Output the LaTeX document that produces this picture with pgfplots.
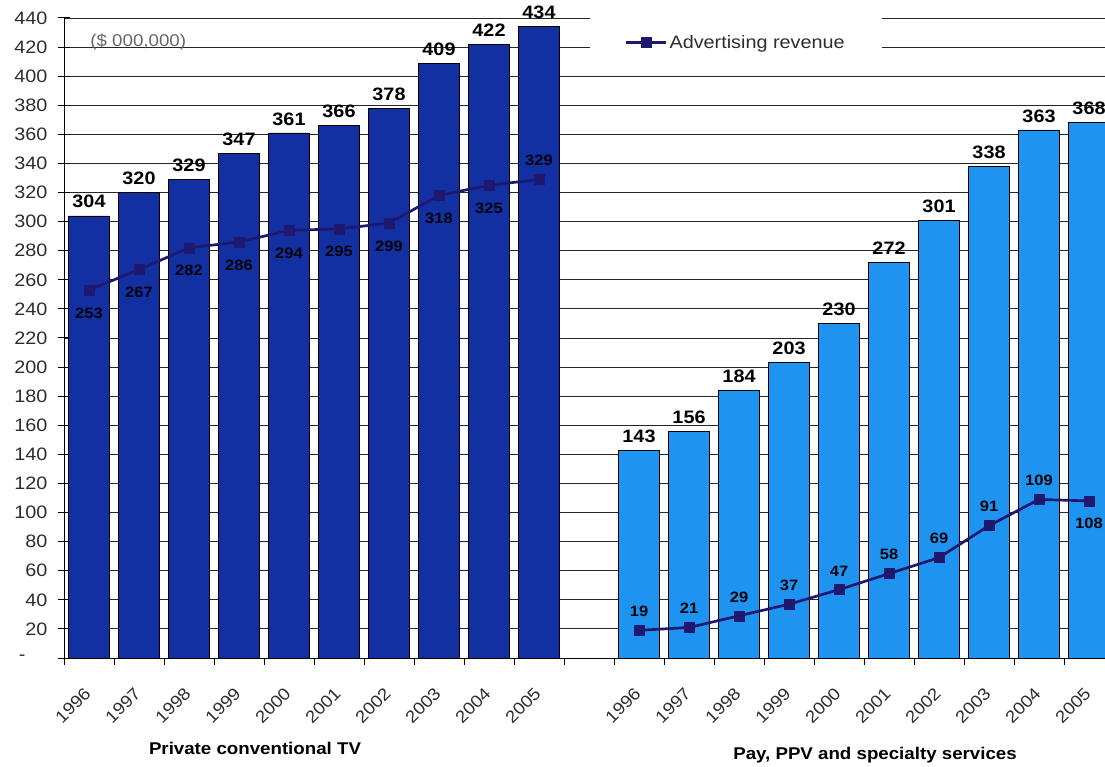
\documentclass[border=0pt]{standalone}
\usepackage{fontspec}
\setmainfont{Liberation Sans}[FakeStretch=1.1]
\usepackage{pgfplots}
\pgfplotsset{compat=1.18}
\definecolor{darkbar}{RGB}{18,48,162}
\definecolor{lightbar}{RGB}{30,148,240}
\definecolor{navy}{RGB}{30,25,110}
\definecolor{txt}{RGB}{45,45,45}
\newcommand\fs[1]{\fontsize{#1}{#1}\selectfont}
\begin{document}
\begin{tikzpicture}
\path[use as bounding box] (0,0) rectangle (1105pt,766pt);
\begin{axis}[
  at={(64pt,108pt)}, anchor=south west,
  scale only axis, width=1041pt, height=640pt,
  xmin=-0.5, xmax=20.32, ymin=0, ymax=440,
  clip mode=individual,
  /pgf/number format/assume math mode=true,
  axis x line*=bottom, axis y line*=left,
  axis line style={black, line width=1pt},
  ytick={0,20,...,440},
  yticklabels={{-\hspace*{22pt}},20,40,60,80,100,120,140,160,180,200,220,240,260,280,300,320,340,360,380,400,420,440},
  yticklabel style={font=\fs{18}, text=txt, xshift=-7pt},
  xtick={0,1,2,3,4,5,6,7,8,9,11,12,13,14,15,16,17,18,19,20},
  xticklabels={1996,1997,1998,1999,2000,2001,2002,2003,2004,2005,1996,1997,1998,1999,2000,2001,2002,2003,2004,2005},
  xticklabel style={font=\fs{17}, text=txt, rotate=45, anchor=north east, xshift=-12pt, yshift=-4pt},
  minor xtick={-0.5,0.5,...,20.5},
  major x tick style={draw=none},
  minor x tick style={black, line width=1pt},
  major y tick style={black, line width=1pt},
  xtick align=outside, ytick align=center,
  major tick length=12pt, minor tick length=7pt,
  ymajorgrids, grid style={black!85, line width=0.9pt},
  legend style={at={(0.505,1.00625)}, anchor=north west, draw=none, fill=white,
    inner xsep=35pt, inner ysep=19pt, font=\fs{18}, text=txt},
  legend cell align=left,
  legend image code/.code={\draw[mark repeat=2,mark phase=2,#1] plot coordinates {(0pt,0pt) (20pt,0pt) (40pt,0pt)};},
]
% bars
\addplot[ybar, forget plot, bar width=41pt, bar shift=0pt, fill=darkbar, draw=black, line width=0.6pt,
  nodes near coords, every node near coord/.append style={font=\bfseries\fs{18}, text=black, yshift=4pt}]
  coordinates {(0,304)(1,320)(2,329)(3,347)(4,361)(5,366)(6,378)(7,409)(8,422)(9,434)};
\addplot[ybar, forget plot, bar width=41pt, bar shift=0pt, fill=lightbar, draw=black, line width=0.6pt,
  nodes near coords, every node near coord/.append style={font=\bfseries\fs{18}, text=black, yshift=4pt}]
  coordinates {(11,143)(12,156)(13,184)(14,203)(15,230)(16,272)(17,301)(18,338)(19,363)(20,368)};
% lines
\addplot[navy, line width=2.7pt, mark=square*, mark size=5pt, mark options={fill=navy, line width=0.5pt}]
  coordinates {(0,253)(1,267)(2,282)(3,286)(4,294)(5,295)(6,299)(7,318)(8,325)(9,329)};
\addlegendentry{Advertising revenue}
\addplot[navy, forget plot, line width=2.7pt, mark=square*, mark size=5pt, mark options={fill=navy, line width=0.5pt}]
  coordinates {(11,19)(12,21)(13,29)(14,37)(15,47)(16,58)(17,69)(18,91)(19,109)(20,108)};
% line labels below
\addplot[draw=none, mark=none, forget plot, nodes near coords,
  every node near coord/.style={anchor=north, font=\bfseries\fs{15}, text=black!90!navy, yshift=-14pt}]
  coordinates {(0,253)(1,267)(2,282)(3,286)(4,294)(5,295)(6,299)(7,318)(8,325)(20,108)};
% line labels above
\addplot[draw=none, mark=none, forget plot, nodes near coords,
  every node near coord/.style={anchor=south, font=\bfseries\fs{15}, text=black!90!navy, yshift=10pt}]
  coordinates {(9,329)(11,19)(12,21)(13,29)(14,37)(15,47)(16,58)(17,69)(18,91)(19,109)};
\node[anchor=west, font=\fs{17}, text=black!60] at (axis description cs:0.022,0.9625) {(\$ 000,000)};
\node[font=\bfseries\fs{17}, text=black] at (axis cs:3.32,-62) {Private conventional TV};
\node[font=\bfseries\fs{17}, text=black] at (axis cs:15.72,-66.7) {Pay, PPV and specialty services};
\end{axis}
\end{tikzpicture}
\end{document}
